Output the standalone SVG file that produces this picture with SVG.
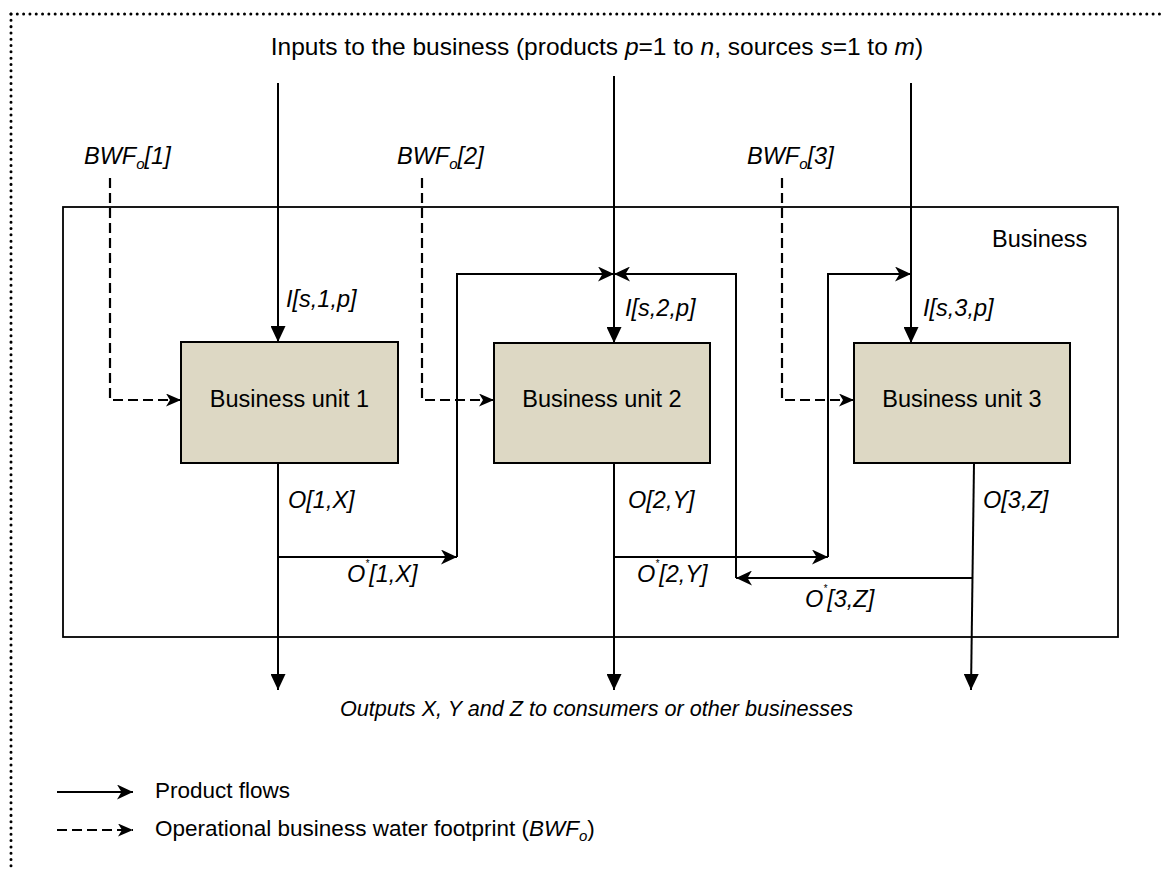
<svg xmlns="http://www.w3.org/2000/svg" width="1162" height="870" viewBox="0 0 1162 870">
<style>
text{font-family:"Liberation Sans",Arial,sans-serif;font-size:23.5px;fill:#000}
.it{font-style:italic}
.sub{font-size:15px}
.sup{font-size:10px}
.ln{stroke:#000;stroke-width:2;fill:none}
.dash{stroke:#000;stroke-width:2.2;fill:none;stroke-dasharray:10 5}
.unit{fill:#DDD8C4;stroke:#000;stroke-width:2}
.leg{font-size:22.5px}
</style>
<defs>
<marker id="tri" markerUnits="userSpaceOnUse" markerWidth="16" markerHeight="15" refX="16" refY="7.5" orient="auto">
<path d="M0,0 L16,7.5 L0,15 Z" fill="#000"/>
</marker>
<marker id="stl" markerUnits="userSpaceOnUse" markerWidth="17" markerHeight="15" refX="16" refY="7.5" orient="auto">
<path d="M0,0 L16,7.5 L0,15 L4.5,7.5 Z" fill="#000"/>
</marker>
<marker id="stls" markerUnits="userSpaceOnUse" markerWidth="16" markerHeight="13" refX="15" refY="6.5" orient="auto">
<path d="M0,0 L15,6.5 L0,13 L4,6.5 Z" fill="#000"/>
</marker>
</defs>

<g id="frame">
<line x1="11" y1="14" x2="1162" y2="14" stroke="#000" stroke-width="3" stroke-linecap="round" stroke-dasharray="0.01 6.3"/>
<line x1="11" y1="14" x2="11" y2="870" stroke="#000" stroke-width="3" stroke-linecap="round" stroke-dasharray="0.01 6.3"/>
</g>

<g id="business">
<rect x="63" y="207" width="1055" height="430" fill="none" stroke="#000" stroke-width="1.8"/>
<text x="992" y="247">Business</text>
</g>

<g id="title">
<text x="597" y="55" text-anchor="middle" style="font-size:24.5px">Inputs to the business (products <tspan class="it">p</tspan>=1 to <tspan class="it">n</tspan>, sources <tspan class="it">s</tspan>=1 to <tspan class="it">m</tspan>)</text>
</g>

<g id="connectors">
<line class="ln" x1="278" y1="83" x2="278" y2="342" marker-end="url(#tri)"/>
<line class="ln" x1="614" y1="76" x2="614" y2="343" marker-end="url(#tri)"/>
<line class="ln" x1="911" y1="83" x2="911" y2="343" marker-end="url(#tri)"/>
<polyline class="dash" points="110,178 110,400 181,400" marker-end="url(#stls)"/>
<polyline class="dash" points="422,178 422,400 494,400" marker-end="url(#stls)"/>
<polyline class="dash" points="782,178 782,400 854,400" marker-end="url(#stls)"/>
<line class="ln" x1="278" y1="463" x2="278" y2="690" marker-end="url(#tri)"/>
<line class="ln" x1="614" y1="463" x2="614" y2="690" marker-end="url(#tri)"/>
<line class="ln" x1="974" y1="463" x2="971" y2="690" marker-end="url(#tri)"/>
<line class="ln" x1="278" y1="557" x2="457" y2="557" marker-end="url(#stl)"/>
<polyline class="ln" points="457,557 457,274 614,274" marker-end="url(#stl)"/>
<line class="ln" x1="614" y1="557" x2="828" y2="557" marker-end="url(#stl)"/>
<polyline class="ln" points="828,557 828,274 911,274" marker-end="url(#stl)"/>
<line class="ln" x1="973" y1="578" x2="736" y2="578" marker-end="url(#stl)"/>
<polyline class="ln" points="736,578 736,274 614,274" marker-end="url(#stl)"/>
</g>

<g id="unit1">
<rect class="unit" x="181" y="342" width="217" height="121"/>
<text x="289.5" y="407" text-anchor="middle">Business unit 1</text>
</g>
<g id="unit2">
<rect class="unit" x="494" y="343" width="216" height="120"/>
<text x="602" y="407" text-anchor="middle">Business unit 2</text>
</g>
<g id="unit3">
<rect class="unit" x="854" y="343" width="216" height="120"/>
<text x="962" y="407" text-anchor="middle">Business unit 3</text>
</g>

<g id="labels">
<text class="it" x="84" y="164">BWF<tspan class="sub" dy="5">o</tspan><tspan dy="-5">[1]</tspan></text>
<text class="it" x="397" y="164">BWF<tspan class="sub" dy="5">o</tspan><tspan dy="-5">[2]</tspan></text>
<text class="it" x="747" y="164">BWF<tspan class="sub" dy="5">o</tspan><tspan dy="-5">[3]</tspan></text>
<text class="it" x="286" y="307">I[s,1,p]</text>
<text class="it" x="625" y="316">I[s,2,p]</text>
<text class="it" x="923" y="316">I[s,3,p]</text>
<text class="it" x="288" y="508">O[1,X]</text>
<text class="it" x="628" y="508">O[2,Y]</text>
<text class="it" x="983" y="508">O[3,Z]</text>
<text class="it" x="347" y="582">O<tspan class="sup" dy="-15">*</tspan><tspan dy="15">[1,X]</tspan></text>
<text class="it" x="637" y="582">O<tspan class="sup" dy="-15">*</tspan><tspan dy="15">[2,Y]</tspan></text>
<text class="it" x="805" y="607">O<tspan class="sup" dy="-15">*</tspan><tspan dy="15">[3,Z]</tspan></text>
<text class="it" x="596.5" y="716" text-anchor="middle" style="font-size:21.6px">Outputs X, Y and Z to consumers or other businesses</text>
</g>

<g id="legend">
<line class="ln" x1="57" y1="792" x2="133" y2="792" marker-end="url(#stl)"/>
<text class="leg" x="155" y="798">Product flows</text>
<line class="dash" x1="57" y1="830" x2="133" y2="830" stroke-dasharray="8 5" marker-end="url(#stls)"/>
<text class="leg" x="155" y="836">Operational business water footprint (<tspan class="it">BWF</tspan><tspan class="it sub" dy="5">o</tspan><tspan dy="-5">)</tspan></text>
</g>
</svg>
